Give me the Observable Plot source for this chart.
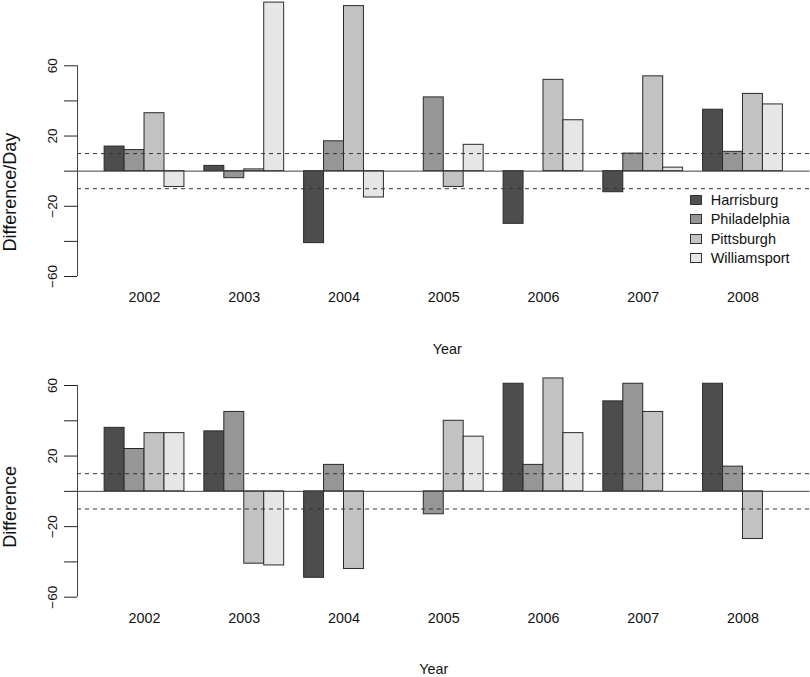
<!DOCTYPE html>
<html>
<head>
<meta charset="utf-8">
<script src="https://cdn.jsdelivr.net/npm/d3@7"></script>
<script src="https://cdn.jsdelivr.net/npm/@observablehq/plot@0.6"></script>
<style>
  html, body { margin: 0; padding: 0; background: #fff; }
  #wrap { position: relative; width: 810px; height: 677px; font-family: "Liberation Sans", Arial, Helvetica, sans-serif; }
  #wrap > svg { position: absolute; left: 0; background: transparent; }
  #legend { position: absolute; left: 690px; top: 190.7px; font-size: 14.5px; color: #111; }
  #legend .row { display: flex; align-items: center; height: 19.2px; }
  #legend .box { width: 12px; height: 10px; box-sizing: border-box; border: 1px solid #333; }
  #legend .lab { margin-left: 8.7px; }
</style>
</head>
<body>
<div id="wrap"></div>
<script>
// ---- data ----
const years = ["2002", "2003", "2004", "2005", "2006", "2007", "2008"];
const cities = ["Harrisburg", "Philadelphia", "Pittsburgh", "Williamsport"];
const cityColors = ["#4d4d4d", "#969696", "#c2c2c2", "#e6e6e6"];

// top panel: Difference/Day
const perDayHarrisburg   = [14, 3, -41, 0, -30, -12, 35];
const perDayPhiladelphia = [12, -4, 17, 42, 0, 10, 11];
const perDayPittsburgh   = [33, 1, 94, -9, 52, 54, 44];
const perDayWilliamsport = [-9, 96, -15, 15, 29, 2, 38];

// bottom panel: Difference
const totalHarrisburg   = [36, 34, -49, 0, 61, 51, 61];
const totalPhiladelphia = [24, 45, 15, -13, 15, 61, 14];
const totalPittsburgh   = [33, -41, -44, 40, 64, 45, -27];
const totalWilliamsport = [33, -42, 0, 31, 33, 0, 0];

const yTicks = [-60, -40, -20, 0, 20, 40, 60];
const yTickLabels = [-60, -20, 20, 60];
const thresholds = [10, -10];

// ---- layout helpers (barplot beside=TRUE, space c(0,1)) ----
const nC = cities.length;
const groupW = nC + 1;
const xMaxU = years.length * groupW;           // 35
const pad = 0.04 * (xMaxU - 1);
const xDomain = [1 - pad, xMaxU + pad];

function rowsFrom(seriesList) {
  const rows = [];
  years.forEach((yr, g) => {
    cities.forEach((c, j) => {
      const x1 = g * groupW + 1 + j;
      rows.push({year: yr, city: c, value: seriesList[j][g], x1, x2: x1 + 1});
    });
  });
  return rows;
}
const groupCenters = years.map((yr, g) => ({year: yr, x: g * groupW + 1 + nC / 2}));

const fmt = d => (d < 0 ? "\u2212" + Math.abs(d) : String(d));

function panel({rows, height, marginTop, marginBottom, ylab, ylabDy, yearDx}) {
  return Plot.plot({
    width: 810,
    height,
    marginLeft: 77,
    marginRight: 0.5,
    marginTop,
    marginBottom,
    style: {background: "transparent", fontFamily: "Liberation Sans, Arial, Helvetica, sans-serif", color: "#222", overflow: "visible"},
    x: {domain: xDomain, axis: null},
    y: {domain: [-60, 60], ticks: yTicks, tickSize: 13, tickFormat: () => "", label: null, axis: "left"},
    color: {domain: cities, range: cityColors},
    marks: [
      Plot.rectY(rows, {x1: "x1", x2: "x2", y1: 0, y2: "value", fill: "city", stroke: "#2a2a2a", strokeWidth: 1}),
      Plot.ruleY([0], {stroke: "#444", strokeWidth: 1}),
      Plot.ruleY(thresholds, {stroke: "#333", strokeWidth: 1, strokeDasharray: "4,4"}),
      Plot.ruleX([xDomain[0]], {y1: -60, y2: 60, stroke: "#444", strokeWidth: 1}),
      Plot.text(yTickLabels, {y: d => d, text: fmt, frameAnchor: "left", dx: -25, rotate: -90, textAnchor: "middle", fontSize: 13.5, fill: "#111"}),
      Plot.text(groupCenters, {x: "x", text: "year", frameAnchor: "bottom", dy: 25.5, fontSize: 14.3, fill: "#111"}),
      Plot.text([ylab], {text: d => d, frameAnchor: "left", dx: -67, dy: ylabDy, rotate: -90, textAnchor: "middle", fontSize: 18, fill: "#111"}),
      Plot.text(["Year"], {text: d => d, frameAnchor: "bottom", dx: yearDx, dy: 77, fontSize: 14.3, fill: "#111"})
    ]
  });
}

const wrap = document.getElementById("wrap");

const topPanel = panel({
  rows: rowsFrom([perDayHarrisburg, perDayPhiladelphia, perDayPittsburgh, perDayWilliamsport]),
  height: 360, marginTop: 65.3, marginBottom: 84,
  ylab: "Difference/Day", ylabDy: 21, yearDx: 3.5
});
topPanel.style.top = "0px";
wrap.appendChild(topPanel);

const bottomPanel = panel({
  rows: rowsFrom([totalHarrisburg, totalPhiladelphia, totalPittsburgh, totalWilliamsport]),
  height: 357, marginTop: 65, marginBottom: 80.3,
  ylab: "Difference", ylabDy: 15.5, yearDx: -10
});
bottomPanel.style.top = "320px";
wrap.appendChild(bottomPanel);

// legend (top panel)
const legend = document.createElement("div");
legend.id = "legend";
cities.forEach((c, i) => {
  const row = document.createElement("div");
  row.className = "row";
  const box = document.createElement("span");
  box.className = "box";
  box.style.background = cityColors[i];
  const lab = document.createElement("span");
  lab.className = "lab";
  lab.textContent = c;
  row.appendChild(box);
  row.appendChild(lab);
  legend.appendChild(row);
});
wrap.appendChild(legend);
</script>
</body>
</html>
